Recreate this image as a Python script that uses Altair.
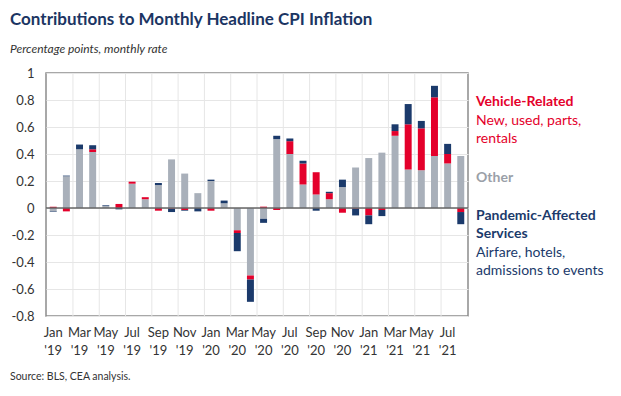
import altair as alt
import pandas as pd

# ---------------- data ----------------
month_names = ["Jan", "Feb", "Mar", "Apr", "May", "Jun", "Jul", "Aug", "Sep", "Oct", "Nov", "Dec"]
months = [f"{m} '{y}" for y in ["19", "20"] for m in month_names] + [f"{m} '21" for m in month_names[:8]]

other = [-0.025, 0.235, 0.435, 0.415, 0.015, 0.0, 0.18, 0.065, 0.17, 0.36, 0.255, 0.11,
         0.20, 0.035, -0.165, -0.50, -0.08, 0.51, 0.40, 0.175, 0.10, 0.065, 0.155, 0.30,
         0.37, 0.41, 0.535, 0.285, 0.28, 0.385, 0.33, 0.385]
vehicle = [0.01, -0.025, 0.0, 0.02, 0.0, 0.03, 0.015, 0.015, -0.02, -0.005, -0.015, 0.0,
           -0.02, 0.0, -0.02, -0.03, 0.01, -0.015, 0.095, 0.155, 0.165, 0.045, -0.035, -0.005,
           -0.055, -0.015, 0.035, 0.335, 0.31, 0.435, 0.07, -0.03]
pandemic = [-0.005, 0.005, 0.035, 0.03, 0.005, -0.01, 0.0, 0.0, 0.015, -0.025, -0.005, -0.025,
            0.01, 0.02, -0.135, -0.165, -0.03, 0.025, 0.02, 0.02, -0.02, 0.01, 0.055, -0.05,
            -0.065, -0.045, 0.05, 0.15, 0.055, 0.085, 0.075, -0.09]

series_names = ["Other", "Vehicle-Related", "Pandemic-Affected Services"]
series_colors = ["#A9B0BA", "#E4002B", "#1B3A6B"]
y_ticks = [-0.8, -0.6, -0.4, -0.2, 0, 0.2, 0.4, 0.6, 0.8, 1]

rows = []
for i, m in enumerate(months):
    for k, (name, vals) in enumerate(zip(series_names, [other, vehicle, pandemic])):
        rows.append({"month": m, "series": name, "value": vals[i], "order": k})
df = pd.DataFrame(rows)

W, H = 422, 243
FONT = "Lato"

x_scale = alt.Scale(domain=months, paddingInner=0, paddingOuter=0.05)
y_scale = alt.Scale(domain=[-0.8, 1], nice=False)

x_axis = alt.Axis(labelAngle=0, ticks=False, domain=False, grid=False, title=None,
                  bandPosition=0.5,
                  labelFontSize=13, labelColor="#333333", labelFont=FONT,
                  labelPadding=10, labelLineHeight=18, labelOverlap=False,
                  labelExpr="test(/^(Jan|Mar|May|Jul|Sep|Nov)/, datum.value) ? split(datum.value, ' ') : ''")
y_axis = alt.Axis(values=y_ticks, ticks=False, domain=False, grid=True, title=None,
                  gridColor="#E6E6E6", labelFontSize=13, labelColor="#333333",
                  labelFont=FONT, labelPadding=12, labelOverlap=False,
                  labelExpr="replace(format(datum.value, '~g'), '\u2212', '-')")

bars = alt.Chart(df).mark_bar(width=alt.RelativeBandSize(0.53)).encode(
    x=alt.X("month:N", sort=months, scale=x_scale, title=None, axis=x_axis),
    y=alt.Y("sum(value):Q", stack="zero", title=None, scale=y_scale, axis=y_axis),
    color=alt.Color("series:N", scale=alt.Scale(domain=series_names, range=series_colors), legend=None),
    order=alt.Order("order:Q"),
)

grid_df = pd.DataFrame({"month": months[2::2]})
vgrid = alt.Chart(grid_df).mark_rule(color="#E6E6E6", strokeWidth=1).encode(
    x=alt.X("month:N", sort=months, scale=x_scale, title=None, bandPosition=0, axis=x_axis),
    y=alt.value(0), y2=alt.value(H),
)

zero = alt.Chart(pd.DataFrame({"v": [0]})).mark_rule(color="#666666", strokeWidth=1.5).encode(
    y=alt.Y("v:Q", scale=y_scale, title=None, axis=y_axis), x=alt.value(0), x2=alt.value(W)
)


def label(text, x, y, size, color, weight="normal", style="normal"):
    return alt.Chart(pd.DataFrame({"t": [text]})).mark_text(
        align="left", baseline="middle", fontSize=size, color=color,
        fontWeight=weight, fontStyle=style, font=FONT,
    ).encode(text="t:N", x=alt.value(x), y=alt.value(y))


texts = [
    label("Contributions to Monthly Headline CPI Inflation", -36, -53, 17, "#1B3563", "bold"),
    label("Percentage points, monthly rate", -36, -24, 12, "#333333", style="italic"),
    label("Source: BLS, CEA analysis.", -36, 304, 10.5, "#333333"),
    label("Vehicle-Related", 430, 29, 14, "#E4002B", "bold"),
    label("New, used, parts,", 430, 48, 14, "#E4002B"),
    label("rentals", 430, 66, 14, "#E4002B"),
    label("Other", 430, 105, 14, "#9AA0A8", "bold"),
    label("Pandemic-Affected", 430, 143, 14, "#1B3A6B", "bold"),
    label("Services", 430, 161, 14, "#1B3A6B", "bold"),
    label("Airfare, hotels,", 430, 180, 14, "#1B3A6B"),
    label("admissions to events", 430, 198, 14, "#1B3A6B"),
]

chart = alt.layer(bars, vgrid, zero, *texts).properties(
    width=W, height=H,
    autosize=alt.AutoSizeParams(type="none"),
    padding={"left": 38, "top": 65, "right": 145, "bottom": 72},
).configure_view(stroke="#8C8C8C", strokeWidth=1.5)

chart.save("out.html", embed_options={"renderer": "svg", "actions": False})
